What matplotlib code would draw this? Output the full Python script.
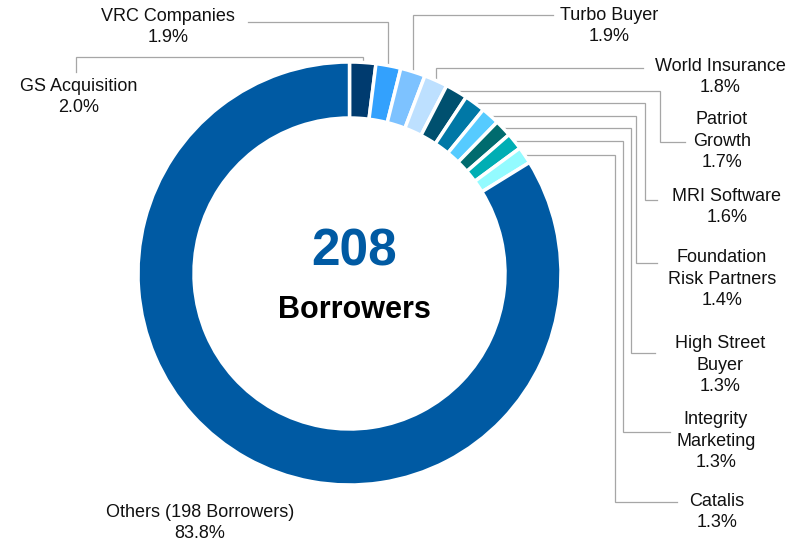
import matplotlib.pyplot as plt
import numpy as np

plt.rcParams['font.family'] = ['Liberation Sans', 'DejaVu Sans']

# Borrower shares (%), clockwise from 12 o'clock
names = ["GS Acquisition", "VRC Companies", "Turbo Buyer", "World Insurance",
         "Patriot\nGrowth", "MRI Software", "Foundation\nRisk Partners",
         "High Street\nBuyer", "Integrity\nMarketing", "Catalis",
         "Others (198 Borrowers)"]
shares = [2.0, 1.9, 1.9, 1.8, 1.7, 1.6, 1.4, 1.3, 1.3, 1.3, 83.8]
colors = ["#003B6F", "#33A1FD", "#7DC2FF", "#BDE0FF", "#00506F", "#0078A6",
          "#56CBFF", "#006B6E", "#00AEB4", "#93FBFF", "#005AA3"]
total_borrowers = 208

W, H = 804, 544
cx, cy = 349.5, 273.5
R, r_in = 211.5, 155.5
line_col = "#A6A6A6"

fig = plt.figure(figsize=(W / 100, H / 100), dpi=100)
ax = fig.add_axes([0, 0, 1, 1])
ax.pie(shares, colors=colors, startangle=-90, counterclock=True,
       center=(cx, cy), radius=R,
       wedgeprops=dict(width=R - r_in, edgecolor="white", linewidth=2.5))
ax.set_xlim(0, W)
ax.set_ylim(H, 0)
ax.set_aspect("equal")
ax.axis("off")

# anchor point on outer edge at the middle of each slice
cum = np.cumsum([0] + shares[:-1])
mid = np.radians(-90 + 3.6 * (cum + np.array(shares) / 2))
ax_x = cx + R * np.cos(mid)
ax_y = cy + R * np.sin(mid)

# label layout: text centre, then leader route
# 'up': rise to level, go across to x_end (optionally drop to y_end)
# 'side': run across to x_v, drop to y_end, run to x_end
layout = [
    (79, 97, ("up", 57, 76, 72)),
    (168, 27, ("up", 22, 248, None)),
    (609, 26, ("up", 15, 553, None)),
    (720, 77, ("up", 68, 643, None)),
    (722, 141, ("side", 660, 142, 685)),
    (727, 207, ("side", 645, 200, 657)),
    (722, 279, ("side", 636, 263, 657)),
    (720, 365, ("side", 631, 353, 655)),
    (716, 441, ("side", 623, 432, 670)),
    (717, 512, ("side", 615, 502, 677)),
    (200, 523, None),
]

for i, (tx, ty, route) in enumerate(layout):
    ax.text(tx, ty, f"{names[i]}\n{shares[i]:.1f}%", ha="center", va="center",
            fontsize=13, color="#111111", linespacing=1.38)
    if route is None:
        continue
    x0, y0 = ax_x[i], ax_y[i]
    if route[0] == "up":
        _, lvl, xe, ye = route
        xs = [x0, x0, xe]
        ys = [y0, lvl, lvl]
        if ye is not None:
            xs.append(xe)
            ys.append(ye)
    else:
        _, xv, ye, xe = route
        xs = [x0, xv, xv, xe]
        ys = [y0, y0, ye, ye]
    ax.plot(xs, ys, color=line_col, lw=0.9, solid_joinstyle="miter", zorder=0)

ax.text(354, 265, str(total_borrowers), ha="center", va="baseline",
        fontsize=37, fontweight="bold", color="#005AA3")
ax.text(354, 318, "Borrowers", ha="center", va="baseline",
        fontsize=22, fontweight="bold", color="black")

fig.savefig("out.png", dpi=100)
